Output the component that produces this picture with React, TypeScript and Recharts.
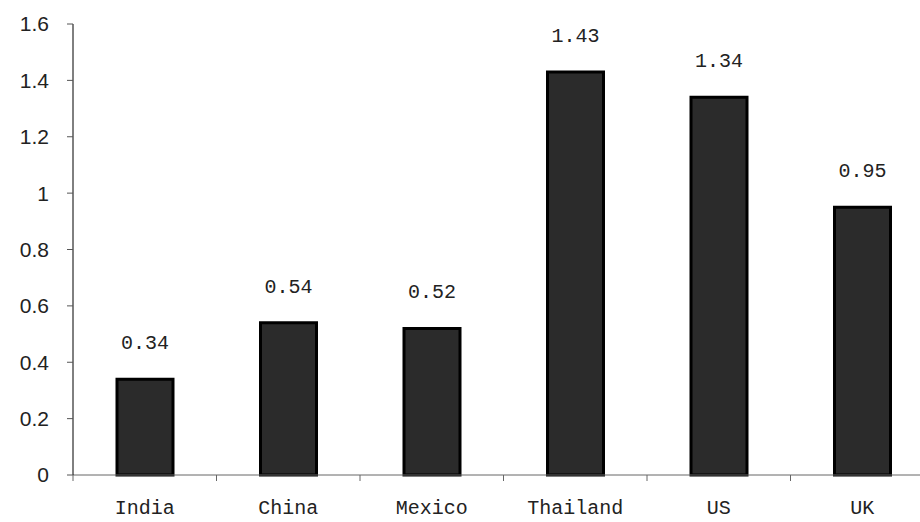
import React from "react";
import { BarChart, Bar, XAxis, YAxis, LabelList } from "recharts";

const categories = ["India", "China", "Mexico", "Thailand", "US", "UK"];
const values = [0.34, 0.54, 0.52, 1.43, 1.34, 0.95];
const yTicks = [0, 0.2, 0.4, 0.6, 0.8, 1, 1.2, 1.4, 1.6];

const data = categories.map((c, i) => ({ name: c, value: values[i] }));

const XTick = (props: any) => {
  const { x, y, payload } = props;
  const off = payload.offset ?? 0;
  return (
    <g>
      <line x1={x - off} y1={y - 8} x2={x - off} y2={y - 2} stroke="#666" strokeWidth={1} />
      <text
        x={x}
        y={y + 26}
        textAnchor="middle"
        dominantBaseline="middle"
        fontFamily="'Liberation Mono', monospace"
        fontSize={20}
        fill="#222"
      >
        {payload.value}
      </text>
    </g>
  );
};

export default function App() {
  return (
    <div style={{ position: "absolute", left: 0, top: 0 }}>
      <BarChart
        width={940}
        height={522}
        data={data}
        margin={{ top: 24, right: 6, bottom: 0, left: 0 }}
      >
        <XAxis
          dataKey="name"
          axisLine={{ stroke: "#666" }}
          tickLine={false}
          tick={<XTick />}
          height={47}
          interval={0}
        />
        <YAxis
          domain={[0, 1.6]}
          ticks={yTicks}
          width={73}
          axisLine={{ stroke: "#000" }}
          tickLine={{ stroke: "#555" }}
          tickSize={6}
          tickMargin={18}
          tick={{ fill: "#222", fontSize: 21, fontFamily: "'Liberation Sans', Arial, sans-serif" }}
          tickFormatter={(v: number) => String(v)}
        />
        <Bar
          dataKey="value"
          fill="#2b2b2b"
          stroke="#000"
          strokeWidth={3}
          barSize={56}
          isAnimationActive={false}
        >
          <LabelList
            dataKey="value"
            position="top"
            offset={30}
            fill="#222"
            fontSize={20}
            fontFamily="'Liberation Mono', monospace"
          />
        </Bar>
      </BarChart>
    </div>
  );
}
